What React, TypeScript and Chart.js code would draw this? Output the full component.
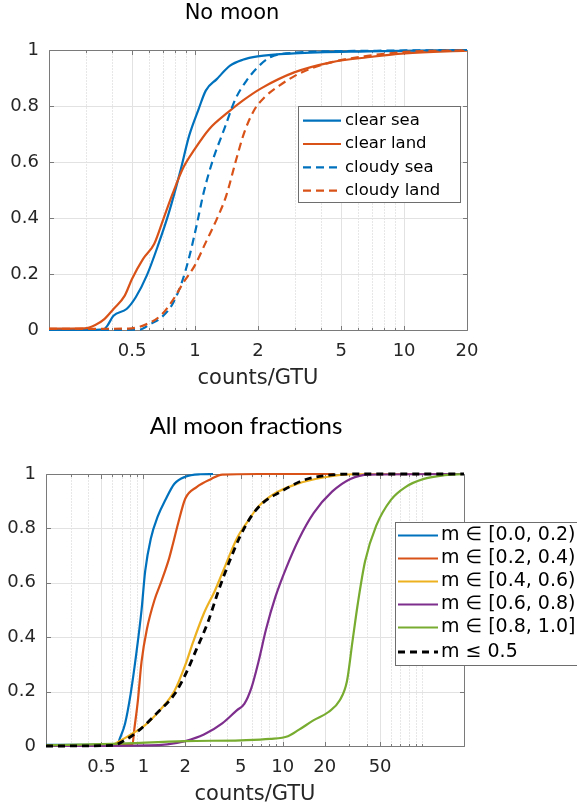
import { useEffect, useRef } from 'react';
import { Chart, registerables } from 'chart.js';

Chart.register(...registerables);

// ---------------- Tick labels ----------------
const topXTickLabels = [0.5, 1, 2, 5, 10, 20];
const bottomXTickLabels = [0.5, 1, 2, 5, 10, 20, 50];
const yTickValues = [0, 0.2, 0.4, 0.6, 0.8, 1];

// ---------------- Top chart: No moon ----------------
const clearSeaX = [0.2, 0.3, 0.365, 0.38, 0.407, 0.47, 0.52, 0.587, 0.664, 0.75, 0.847, 0.937, 1.04, 1.125, 1.27, 1.47, 1.69, 1.99, 2.98, 6.7, 20];
const clearSeaY = [0.0, 0.0, 0.002, 0.015, 0.051, 0.075, 0.117, 0.194, 0.301, 0.42, 0.563, 0.694, 0.789, 0.855, 0.896, 0.944, 0.965, 0.977, 0.988, 0.995, 1.0];

const clearLandX = [0.2, 0.295, 0.333, 0.368, 0.407, 0.46, 0.499, 0.564, 0.637, 0.705, 0.78, 0.88, 0.996, 1.17, 1.44, 1.69, 2.07, 2.98, 4.47, 6.7, 10.1, 20];
const clearLandY = [0.005, 0.006, 0.018, 0.039, 0.075, 0.122, 0.182, 0.254, 0.307, 0.396, 0.486, 0.581, 0.646, 0.718, 0.778, 0.819, 0.863, 0.92, 0.956, 0.974, 0.988, 0.998];

const cloudySeaX = [0.2, 0.54, 0.611, 0.69, 0.78, 0.864, 0.937, 1.016, 1.1, 1.22, 1.38, 1.56, 1.76, 1.99, 2.29, 2.98, 6.7, 20];
const cloudySeaY = [0.0, 0.001, 0.021, 0.045, 0.093, 0.17, 0.26, 0.372, 0.492, 0.61, 0.718, 0.825, 0.89, 0.938, 0.974, 0.99, 0.997, 1.0];

const cloudyLandX = [0.2, 0.48, 0.587, 0.69, 0.78, 0.88, 0.996, 1.125, 1.27, 1.41, 1.56, 1.72, 1.91, 2.15, 2.53, 3.23, 4.47, 6.7, 10.1, 20];
const cloudyLandY = [0.004, 0.005, 0.021, 0.054, 0.105, 0.17, 0.23, 0.313, 0.396, 0.48, 0.599, 0.706, 0.783, 0.831, 0.873, 0.92, 0.956, 0.979, 0.993, 0.999];

// ---------------- Bottom chart: All moon fractions ----------------
const m00X = [0.2, 0.655, 0.674, 0.739, 0.809, 0.886, 0.97, 1.03, 1.13, 1.27, 1.44, 1.67, 2.0, 2.56, 3.16];
const m00Y = [0.004, 0.006, 0.024, 0.083, 0.19, 0.333, 0.5, 0.643, 0.762, 0.845, 0.905, 0.964, 0.99, 0.999, 1.0];

const m02X = [0.2, 0.834, 0.86, 0.913, 0.97, 1.06, 1.2, 1.35, 1.53, 1.62, 1.78, 2.0, 2.41, 3.07, 3.68, 6.7, 23.4];
const m02Y = [0.002, 0.004, 0.06, 0.167, 0.31, 0.43, 0.536, 0.607, 0.69, 0.738, 0.821, 0.91, 0.952, 0.982, 0.998, 1.0, 1.0];

const m04X = [0.2, 0.6, 0.674, 0.81, 1.03, 1.31, 1.67, 2.0, 2.27, 2.72, 3.26, 3.9, 4.68, 5.63, 6.7, 8.6, 12.4, 20, 32.5, 200];
const m04Y = [0.002, 0.005, 0.018, 0.042, 0.077, 0.131, 0.202, 0.298, 0.381, 0.488, 0.571, 0.667, 0.762, 0.827, 0.881, 0.926, 0.962, 0.988, 0.999, 1.0];

const m06X = [0.2, 1.1, 1.48, 2.0, 2.72, 3.68, 4.68, 5.3, 5.96, 6.7, 7.6, 8.86, 10.6, 13.1, 16.7, 22.6, 30.6, 41.5, 200];
const m06Y = [0.0, 0.002, 0.006, 0.018, 0.042, 0.083, 0.131, 0.155, 0.214, 0.31, 0.43, 0.548, 0.655, 0.762, 0.857, 0.935, 0.982, 0.998, 1.0];

const m08X = [0.2, 0.6, 2.0, 5, 8.1, 10.9, 13.1, 16.7, 21.3, 25.6, 28.9, 31.6, 34.6, 39, 46.9, 59.8, 76, 103, 139, 200];
const m08Y = [0.002, 0.008, 0.018, 0.021, 0.026, 0.036, 0.06, 0.095, 0.125, 0.167, 0.238, 0.381, 0.524, 0.679, 0.81, 0.905, 0.952, 0.982, 0.994, 1.0];

const mLe05X = [0.2, 0.6, 0.72, 0.913, 1.24, 1.67, 2.0, 2.41, 2.89, 3.46, 4.15, 4.98, 5.96, 7.17, 9.7, 13.9, 20, 32, 200];
const mLe05Y = [0.0, 0.002, 0.018, 0.054, 0.119, 0.19, 0.262, 0.357, 0.452, 0.571, 0.679, 0.774, 0.845, 0.893, 0.935, 0.976, 0.994, 1.0, 1.0];

const topLabels = ['clear sea', 'clear land', 'cloudy sea', 'cloudy land'];
const bottomLabels = [
  'm \u2208 [0.0, 0.2)',
  'm \u2208 [0.2, 0.4)',
  'm \u2208 [0.4, 0.6)',
  'm \u2208 [0.6, 0.8)',
  'm \u2208 [0.8, 1.0]',
  'm \u2264 0.5',
];

const C = {
  blue: '#0072BD',
  orange: '#D95319',
  yellow: '#EDB120',
  purple: '#7E2F8E',
  green: '#77AC30',
  black: '#000000',
};

function pts(xs: number[], ys: number[]) {
  return xs.map((x, i) => ({ x, y: ys[i] }));
}

function logGrid(min: number, max: number) {
  const out: number[] = [];
  for (let e = -1; e <= 2; e++) {
    for (let m = 1; m <= 9; m++) {
      const v = Number((m * Math.pow(10, e)).toPrecision(3));
      if (v >= min - 1e-9 && v <= max + 1e-9) out.push(v);
    }
  }
  return out;
}

function fmt(v: number) {
  if (Math.abs(v) < 1e-9) return '0';
  if (Math.abs(v - 1) < 1e-9) return '1';
  if (v < 1) return v.toFixed(1);
  return String(Math.round(v));
}

const decorPlugin: any = {
  id: 'decor',
  beforeDatasetsDraw(chart: any, _a: any, o: any) {
    const { ctx, chartArea: a, scales } = chart;
    const xs = scales.x;
    const ys = scales.y;
    const L = Math.round(a.left) + 0.5;
    const R = Math.round(a.right) + 0.5;
    const T = Math.round(a.top) + 0.5;
    const B = Math.round(a.bottom) + 0.5;
    ctx.save();
    ctx.lineWidth = 1;
    const gridVals = logGrid(o.xMin, o.xMax);
    const majors: number[] = o.xMajor;
    const isMajor = (v: number) => majors.some((m: number) => Math.abs(m - v) < 1e-9);
    gridVals.forEach((v) => {
      const px = Math.round(xs.getPixelForValue(v)) + 0.5;
      if (px <= L + 1 || px >= R - 1) return;
      const major = isMajor(v);
      ctx.beginPath();
      ctx.setLineDash(major ? [] : [1, 2]);
      ctx.strokeStyle = major ? '#e2e2e2' : '#cfcfcf';
      ctx.moveTo(px, T);
      ctx.lineTo(px, B);
      ctx.stroke();
    });
    ctx.setLineDash([]);
    ctx.strokeStyle = '#e2e2e2';
    (o.yMajor as number[]).forEach((v) => {
      const py = Math.round(ys.getPixelForValue(v)) + 0.5;
      if (py <= T + 1 || py >= B - 1) return;
      ctx.beginPath();
      ctx.moveTo(L, py);
      ctx.lineTo(R, py);
      ctx.stroke();
    });
    ctx.strokeStyle = '#7a7a7a';
    ctx.beginPath();
    ctx.rect(L, T, R - L, B - T);
    ctx.stroke();
    gridVals.forEach((v) => {
      const px = Math.round(xs.getPixelForValue(v)) + 0.5;
      const len = isMajor(v) ? 4.5 : 2.5;
      ctx.beginPath();
      ctx.moveTo(px, B);
      ctx.lineTo(px, B - len);
      ctx.moveTo(px, T);
      ctx.lineTo(px, T + len);
      ctx.stroke();
    });
    (o.yMajor as number[]).forEach((v) => {
      const py = Math.round(ys.getPixelForValue(v)) + 0.5;
      ctx.beginPath();
      ctx.moveTo(L, py);
      ctx.lineTo(L + 4.5, py);
      ctx.moveTo(R, py);
      ctx.lineTo(R - 4.5, py);
      ctx.stroke();
    });
    ctx.restore();
  },
  afterDraw(chart: any, _a: any, o: any) {
    const { ctx } = chart;
    ctx.save();
    const t = o.title;
    ctx.fillStyle = '#000000';
    ctx.font = t.font;
    ctx.textAlign = 'center';
    ctx.textBaseline = 'middle';
    ctx.fillText(t.text, t.x, t.y);
    const lg = o.legend;
    ctx.fillStyle = '#ffffff';
    ctx.fillRect(lg.left, lg.top, lg.right - lg.left, lg.bottom - lg.top);
    ctx.strokeStyle = '#6e6e6e';
    ctx.lineWidth = 1;
    ctx.strokeRect(lg.left + 0.5, lg.top + 0.5, lg.right - lg.left, lg.bottom - lg.top);
    chart.data.datasets.forEach((ds: any, i: number) => {
      const y = lg.rows[i];
      ctx.beginPath();
      ctx.setLineDash(ds.borderDash || []);
      ctx.strokeStyle = ds.borderColor;
      ctx.lineWidth = ds.borderWidth;
      ctx.moveTo(lg.lineX0, y);
      ctx.lineTo(lg.lineX1, y);
      ctx.stroke();
      ctx.setLineDash([]);
      ctx.fillStyle = '#000000';
      ctx.font = lg.font;
      ctx.textAlign = 'left';
      ctx.textBaseline = 'middle';
      ctx.fillText(ds.label, lg.textX, y);
    });
    ctx.restore();
  },
};

function lineDs(label: string, xs: number[], ys: number[], color: string, dash: number[], width: number, order: number) {
  return {
    label,
    data: pts(xs, ys),
    borderColor: color,
    backgroundColor: color,
    borderWidth: width,
    borderDash: dash,
    pointRadius: 0,
    fill: false,
    cubicInterpolationMode: 'monotone',
    clip: 3,
    order,
  };
}

function makeConfig(p: {
  datasets: any[];
  xMax: number;
  xLabels: number[];
  yWidth: number;
  xHeight: number;
  padTop: number;
  padRight: number;
  xTitlePadBottom: number;
  decor: any;
}): any {
  const tickFont = { family: '"DejaVu Sans", sans-serif', size: 18 };
  return {
    type: 'line',
    data: { datasets: p.datasets },
    plugins: [decorPlugin],
    options: {
      responsive: false,
      animation: false,
      devicePixelRatio: 1,
      layout: { padding: { top: p.padTop, right: p.padRight, left: 0, bottom: 0 } },
      plugins: {
        legend: { display: false },
        title: { display: false },
        tooltip: { enabled: false },
        decor: p.decor,
      },
      scales: {
        x: {
          type: 'logarithmic',
          min: 0.2,
          max: p.xMax,
          grid: { display: false, drawTicks: false },
          border: { display: false },
          afterBuildTicks: (scale: any) => {
            scale.ticks = p.xLabels.map((v) => ({ value: v }));
          },
          afterFit: (scale: any) => {
            scale.height = p.xHeight;
          },
          ticks: {
            autoSkip: false,
            maxRotation: 0,
            minRotation: 0,
            padding: 11,
            color: '#262626',
            font: tickFont,
            callback: (v: any) => fmt(Number(v)),
          },
          title: {
            display: true,
            text: 'counts/GTU',
            color: '#262626',
            font: { family: '"DejaVu Sans", sans-serif', size: 21 },
            padding: { top: 0, bottom: p.xTitlePadBottom },
          },
        },
        y: {
          type: 'linear',
          min: 0,
          max: 1,
          grid: { display: false, drawTicks: false },
          border: { display: false },
          afterFit: (scale: any) => {
            scale.width = p.yWidth;
          },
          ticks: {
            stepSize: 0.2,
            padding: 10,
            color: '#262626',
            font: tickFont,
            callback: (v: any) => fmt(Number(v)),
          },
        },
      },
    },
  };
}

export default function App() {
  const topRef = useRef<HTMLCanvasElement | null>(null);
  const botRef = useRef<HTMLCanvasElement | null>(null);

  useEffect(() => {
    const topDatasets = [
      lineDs(topLabels[0], clearSeaX, clearSeaY, C.blue, [], 2.2, 4),
      lineDs(topLabels[1], clearLandX, clearLandY, C.orange, [], 2.2, 3),
      lineDs(topLabels[2], cloudySeaX, cloudySeaY, C.blue, [8, 5], 2.2, 2),
      lineDs(topLabels[3], cloudyLandX, cloudyLandY, C.orange, [8, 5], 2.2, 1),
    ];
    const botDatasets = [
      lineDs(bottomLabels[0], m00X, m00Y, C.blue, [], 2.2, 6),
      lineDs(bottomLabels[1], m02X, m02Y, C.orange, [], 2.2, 5),
      lineDs(bottomLabels[2], m04X, m04Y, C.yellow, [], 2.2, 4),
      lineDs(bottomLabels[3], m06X, m06Y, C.purple, [], 2.2, 3),
      lineDs(bottomLabels[4], m08X, m08Y, C.green, [], 2.2, 2),
      lineDs(bottomLabels[5], mLe05X, mLe05Y, C.black, [7, 5], 2.8, 1),
    ];

    const top = new Chart(
      topRef.current as HTMLCanvasElement,
      makeConfig({
        datasets: topDatasets,
        xMax: 20,
        xLabels: topXTickLabels,
        yWidth: 49,
        xHeight: 70,
        padTop: 50,
        padRight: 110,
        xTitlePadBottom: 9,
        decor: {
          xMin: 0.2,
          xMax: 20,
          xMajor: topXTickLabels,
          yMajor: yTickValues,
          title: { text: 'No moon', x: 232, y: 14, font: '21px "DejaVu Sans", sans-serif' },
          legend: {
            left: 298,
            top: 106,
            right: 460,
            bottom: 202,
            rows: [120.7, 144, 167.3, 190.7],
            lineX0: 303,
            lineX1: 341,
            textX: 345,
            font: '16.5px "DejaVu Sans", sans-serif',
          },
        },
      })
    );

    const bottom = new Chart(
      botRef.current as HTMLCanvasElement,
      makeConfig({
        datasets: botDatasets,
        xMax: 200,
        xLabels: bottomXTickLabels,
        yWidth: 46,
        xHeight: 63,
        padTop: 74,
        padRight: 113,
        xTitlePadBottom: 2,
        decor: {
          xMin: 0.2,
          xMax: 200,
          xMajor: bottomXTickLabels,
          yMajor: yTickValues,
          title: { text: 'All moon fractions', x: 246, y: 26, font: '24px Lato, sans-serif' },
          legend: {
            left: 395,
            top: 122,
            right: 600,
            bottom: 265,
            rows: [135.5, 158.5, 181.5, 204.5, 227.5, 252],
            lineX0: 398,
            lineX1: 438,
            textX: 441,
            font: '19px "DejaVu Sans", sans-serif',
          },
        },
      })
    );

    return () => {
      top.destroy();
      bottom.destroy();
    };
  }, []);

  return (
    <div style={{ position: 'absolute', left: 0, top: 0, width: 577, height: 809, background: '#ffffff', overflow: 'hidden' }}>
      <canvas ref={topRef} width={577} height={400} style={{ position: 'absolute', left: 0, top: 0, display: 'block' }} />
      <canvas ref={botRef} width={577} height={409} style={{ position: 'absolute', left: 0, top: 400, display: 'block' }} />
    </div>
  );
}
